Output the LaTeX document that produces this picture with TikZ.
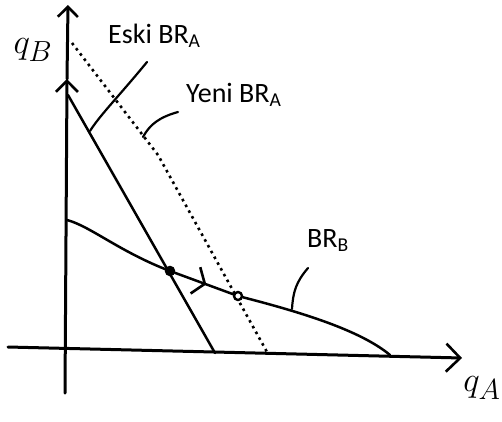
\documentclass[tikz,border=0pt]{standalone}
\usepackage{fontspec}
\setmainfont{Carlito}
\usetikzlibrary{arrows.meta,decorations.markings}

\begin{document}
\begin{tikzpicture}[
  x=1pt,y=-1pt,
  axisline/.style={line width=3pt,line cap=round},
  brline/.style={line width=2.5pt,line cap=round},
  newbr/.style={line width=2.6pt,dash pattern=on 2.6pt off 4pt},
  leader/.style={line width=2.2pt,line cap=round},
  tag/.style={font=\fontsize{28}{28}\selectfont,anchor=base west,inner sep=0pt},
  hand/.style={font=\Huge,scale=1.4,inner sep=0pt},
  barb/.style={-{Straight Barb[length=#1,width=2*#1,line width=2.6pt]}},
  moveright/.style={postaction={decorate},decoration={markings,
    mark=at position 0.54 with {\arrow{Straight Barb[length=10pt,width=28pt,line width=2.6pt]}}}},
  eq/.style={circle,draw,line width=2.4pt,inner sep=0pt,minimum size=8pt}
]
  \useasboundingbox (0,0) rectangle (502,421);

  % axes
  \coordinate (ybot) at (65,393);
  \coordinate (ymid) at (67,79);
  \coordinate (ytop) at (68,5);
  \coordinate (xleft) at (8,347);
  \coordinate (xright) at (462,358);
  \draw[axisline,barb=11pt] (ybot) -- (ymid);
  \draw[axisline,barb=10pt] (ymid) -- (ytop);
  \draw[axisline,barb=14pt] (xleft) -- (xright);
  \node[hand] (qB) at (33,50) {$q_B$};
  \node[hand] (qA) at (482,388) {$q_A$};

  % old reaction curve of A
  \coordinate (oldtop) at (68,95);
  \coordinate (oldend) at (215,353);
  \draw[brline] (oldtop) -- (oldend);

  % new reaction curve of A (dotted)
  \coordinate (newtop) at (72,43);
  \coordinate (newbend) at (158,155);
  \coordinate (newend) at (267,352);
  \draw[newbr] (newtop) -- (newbend) -- (newend);

  % reaction curve of B
  \coordinate (bbtop) at (67,220);
  \coordinate (bbend) at (390,355);
  \node[eq,fill=black] (E1) at (170,271) {};
  \node[eq,fill=white] (E2) at (238,296) {};
  \draw[brline] (bbtop) .. controls (90,226) and (120,252) .. (E1.center);
  \draw[brline,moveright] (E1) -- (E2);
  \draw[brline] (E2) .. controls (300,312) and (360,330) .. (bbend);

  % labels
  \node[tag] (eski) at (108,43) {Eski BR\textsubscript{A}};
  \node[tag] (yeni) at (186,102) {Yeni BR\textsubscript{A}};
  \node[tag] (brb) at (307,247) {BR\textsubscript{B}};
  \draw[leader] (147,62) .. controls (120,95) and (100,115) .. (90,131);
  \draw[leader] (178,112) .. controls (160,117) and (150,124) .. (143,137);
  \draw[leader] (308,268) .. controls (296,282) and (293,292) .. (292,309);
\end{tikzpicture}
\end{document}
